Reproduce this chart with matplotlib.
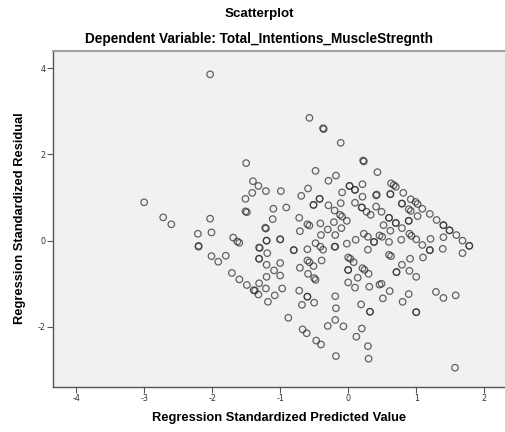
import matplotlib
matplotlib.use('Agg')
import matplotlib.pyplot as plt
import numpy as np
plt.rcParams['axes.unicode_minus'] = False

# regression standardized predicted values / residuals
predicted = [-2.03, -1.50, -1.40, -1.32, -1.41, -1.51, -3.00, -1.51, -1.49, -2.72,
             -2.03, -2.60, -2.21, -2.01, -2.20, -2.20, -1.69, -1.63, -1.60, -2.01,
             -1.91, -1.80, -1.31, -1.31, -1.71, -1.60, -1.49, -1.39, -1.37, -1.31,
             -1.32, -0.57, -0.37, -0.36, -0.11, 0.22, 0.23, 0.43, -0.48, -0.18,
             -0.29, -1.21, -0.99, -0.69, -0.59, 0.02, 0.10, 0.21, -0.09, 0.21,
             0.41, 0.42, -0.42, -0.51, -0.29, -0.11, 0.10, 0.20, 0.41, 0.27,
             0.33, -1.10, -0.91, -0.20, -0.12, -0.09, -0.72, -1.11, -1.22, -1.21,
             -0.60, -0.57, -0.41, -0.21, -0.02, -0.71, -0.40, -0.30, -0.19, -0.10,
             -1.20, -1.00, -1.30, -1.19, -0.80, -0.60, -0.48, -0.41, -0.37, -0.20,
             -0.02, 0.11, 0.23, 0.29, 0.38, 0.29, 0.46, -1.20, -1.00, -1.09,
             -1.20, -1.00, -1.21, -0.97, -1.08, -1.18, -0.60, -0.57, -0.39, -0.71,
             -0.51, -0.59, -0.50, -0.48, -0.72, -0.60, -0.68, -0.50, -0.88, -0.67,
             -0.61, -0.47, -0.40, 0.00, 0.03, 0.00, 0.08, 0.21, 0.24, 0.30,
             0.14, 0.00, 0.10, 0.31, 0.46, -0.19, -0.18, 0.19, 0.32, -0.19,
             -0.30, -0.07, 0.20, 0.12, 0.29, -0.18, 0.30, 0.63, 0.67, 0.70,
             0.62, 0.81, 0.49, 0.79, 0.92, 0.99, 1.02, 1.09, 0.89, 0.92,
             1.02, 1.20, 1.30, 1.40, 1.49, 1.59, 1.68, 1.78, 0.60, 0.70,
             0.52, 0.62, 0.79, 0.89, 0.90, 0.93, 1.00, 1.09, 1.21, 1.40,
             1.39, 1.68, 1.20, 0.78, 0.50, 0.60, 0.60, 0.63, 0.91, 1.10,
             0.79, 0.71, 0.90, 1.00, 0.49, 0.61, 0.51, 0.80, 0.89, 1.29,
             1.40, 1.58, 1.00, 1.57,
             # overlapping cases (drawn darker)
             1.40, 1.49, 1.78, 1.20, 0.79, 0.60, 0.70, 0.89, 1.00, 0.71,
             0.32, -0.80, -1.20, -1.00, -1.31, 0.00, -0.19, -0.60, -0.42, -0.51,
             0.20, 0.38, 0.10, 0.02, 0.62]
residual = [3.86, 1.80, 1.38, 1.27, 1.11, 0.97, 0.89, 0.68, 0.66, 0.54,
            0.51, 0.38, 0.16, 0.19, -0.12, -0.14, 0.07, -0.02, -0.05, -0.36,
            -0.49, -0.35, -0.16, -0.42, -0.75, -0.90, -1.03, -1.15, -1.16, -0.99,
            -1.25, 2.85, 2.61, 2.59, 2.27, 1.86, 1.84, 1.59, 1.62, 1.51,
            1.39, 1.15, 1.15, 1.04, 1.21, 1.27, 1.18, 1.31, 1.12, 1.02,
            1.05, 1.07, 0.97, 0.83, 0.82, 0.87, 0.88, 0.77, 0.79, 0.67,
            0.60, 0.74, 0.77, 0.70, 0.60, 0.56, 0.53, 0.50, 0.30, 0.28,
            0.38, 0.35, 0.40, 0.43, 0.46, 0.22, 0.13, 0.26, 0.13, 0.29,
            0.00, 0.03, -0.17, -0.29, -0.22, -0.20, -0.06, -0.14, -0.21, -0.14,
            -0.07, 0.02, 0.16, 0.09, -0.03, -0.21, 0.12, -0.56, -0.52, -0.69,
            -0.84, -0.81, -1.11, -1.11, -1.27, -1.42, -0.46, -0.50, -0.46, -0.63,
            -0.59, -0.77, -0.87, -0.91, -1.16, -1.30, -1.49, -1.44, -1.79, -2.06,
            -2.15, -2.32, -2.41, -0.39, -0.42, -0.68, -0.50, -0.64, -0.68, -0.77,
            -0.86, -0.97, -1.09, -1.07, -1.02, -1.29, -1.57, -1.48, -1.65, -1.84,
            -1.98, -1.99, -2.04, -2.23, -2.45, -2.68, -2.74, 1.33, 1.29, 1.25,
            1.08, 1.11, 0.67, 0.86, 0.96, 0.90, 0.85, 0.74, 0.73, 0.69,
            0.57, 0.62, 0.48, 0.36, 0.24, 0.13, 0.00, -0.12, 0.53, 0.41,
            0.36, 0.23, 0.29, 0.46, 0.16, 0.11, 0.03, -0.10, 0.04, 0.08,
            -0.19, -0.29, -0.22, 0.02, 0.09, -0.03, -0.33, -0.36, -0.42, -0.39,
            -0.56, -0.73, -0.70, -0.84, -1.00, -1.17, -1.34, -1.42, -1.24, -1.19,
            -1.33, -1.27, -1.66, -2.95,
            0.36, 0.24, -0.12, -0.22, 0.86, 0.53, 0.41, 0.46, -1.66, -0.73,
            -1.65, -0.22, 0.00, 0.03, -0.42, -0.68, -0.14, -1.30, 0.97, 0.83,
            0.77, -0.03, 1.18, 1.27, 1.08]

x_ticks = [-4, -3, -2, -1, 0, 1, 2]
y_ticks = [-2, 0, 2, 4]

fig = plt.figure(figsize=(5.06, 4.32), dpi=100)
ax = fig.add_axes([0.1047, 0.1049, 0.8953, 0.7778])
ax.set_facecolor('#f1f1f1')

ax.scatter(predicted, residual, s=22, facecolors='none',
           edgecolors='#2a2a2a', linewidths=0.9, alpha=0.72)

ax.set_xlim(-4.34, 2.32)
ax.set_ylim(-3.39, 4.41)
ax.set_xticks(x_ticks)
ax.set_yticks(y_ticks)
ax.tick_params(axis='both', direction='out', length=4, width=0.8,
               color='#555555', labelsize=5.8, labelcolor='#333333', pad=1.5)

ax.spines['right'].set_visible(False)
ax.spines['top'].set_color('#a0a0a0')
ax.spines['top'].set_linewidth(1.5)
for s in ['left', 'bottom']:
    ax.spines[s].set_color('#555555')
    ax.spines[s].set_linewidth(1.0)

ax.set_xlabel('Regression Standardized Predicted Value', fontsize=9.3,
              fontweight='bold', family='Liberation Sans', labelpad=6)
ax.set_ylabel('Regression Standardized Residual', fontsize=9.3,
              fontweight='bold', family='Liberation Sans', labelpad=8)

fig.text(0.512, 0.968, 'Scatterplot', ha='center', va='center',
         fontsize=9.6, fontweight='bold', family='Liberation Sans')
fig.text(0.512, 0.909, 'Dependent Variable: Total_Intentions_MuscleStregnth',
         ha='center', va='center', fontsize=9.8, fontweight='bold',
         family='Liberation Sans')

fig.savefig('out.png', dpi=100)
